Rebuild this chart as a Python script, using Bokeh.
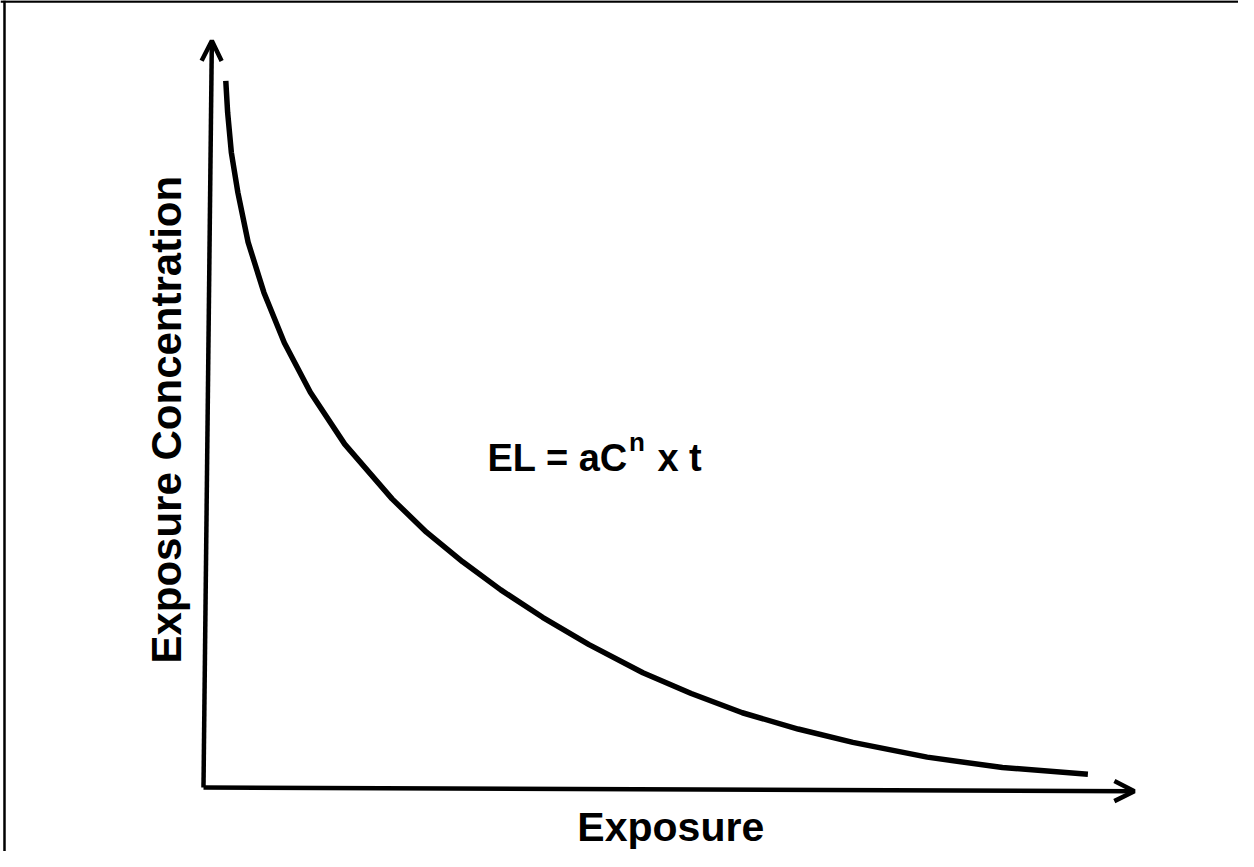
from bokeh.plotting import figure
from bokeh.models import Range1d, Label, Arrow, OpenHead, Span
from bokeh.embed import file_html
from bokeh.resources import INLINE

# Curve (arbitrary units: exposure vs concentration)
exposure = [0.24, 0.26, 0.30, 0.37, 0.48, 0.65, 0.87, 1.15, 1.52, 2.03, 2.40,
            2.79, 3.20, 3.65, 4.15, 4.73, 5.25, 5.80, 6.40, 6.99, 7.79, 8.60, 9.52]
concentration = [9.55, 9.12, 8.58, 8.04, 7.37, 6.69, 6.01, 5.34, 4.64, 3.90, 3.45,
                 3.05, 2.67, 2.30, 1.93, 1.55, 1.27, 1.01, 0.79, 0.61, 0.41, 0.27, 0.18]

x_label = "Exposure"
y_label = "Exposure Concentration"
formula_parts = ["EL = aC", "n", "x t"]

# axis arrows (the scanned page is slightly tilted)
x_axis_end = (10.02, -0.05)
y_axis_end = (0.09, 10.09)

FONT = "Liberation Sans"

p = figure(width=1238, height=851, output_backend="svg", toolbar_location=None,
           x_range=Range1d(-2.185, 11.141), y_range=Range1d(-0.865, 10.635),
           min_border=0)
p.axis.visible = False
p.xgrid.visible = False
p.ygrid.visible = False
p.outline_line_color = None
p.background_fill_color = "white"

# page frame (top and left edges visible in the scan)
p.add_layout(Span(location=10.62, dimension="width", line_color="black", line_width=2.5))
p.add_layout(Span(location=-2.142, dimension="height", line_color="black", line_width=2.5))

# axes with arrow heads
p.add_layout(Arrow(end=OpenHead(size=20, line_width=4.5, line_color="black"),
                   x_start=0, y_start=0, x_end=y_axis_end[0], y_end=y_axis_end[1],
                   line_width=4.5, line_color="black"))
p.add_layout(Arrow(end=OpenHead(size=20, line_width=4.5, line_color="black"),
                   x_start=0, y_start=0, x_end=x_axis_end[0], y_end=x_axis_end[1],
                   line_width=4.5, line_color="black"))

p.line(exposure, concentration, line_width=5.5, line_color="black",
       line_join="round", line_cap="butt")

p.add_layout(Label(x=5.03, y=-0.54, text=x_label, text_align="center",
                   text_baseline="alphabetic", text_font=FONT, text_font_style="bold",
                   text_font_size="41px", text_color="black"))
p.add_layout(Label(x=-0.40, y=4.97, text=y_label, angle=1.5707963,
                   text_align="center", text_baseline="middle", text_font=FONT,
                   text_font_style="bold", text_font_size="42px", text_color="black"))

fx, fy = 3.057, 4.446
big = 38
small = 26
w0 = 3.696 * big
w1 = 0.611 * small
space = 0.278 * big
p.add_layout(Label(x=fx, y=fy, text=formula_parts[0], text_align="left",
                   text_baseline="alphabetic", text_font=FONT, text_font_style="bold",
                   text_font_size=f"{big}px", text_color="black"))
p.add_layout(Label(x=fx, y=fy, x_offset=w0 + 1, y_offset=16, text=formula_parts[1],
                   text_align="left", text_baseline="alphabetic", text_font=FONT,
                   text_font_style="bold", text_font_size=f"{small}px", text_color="black"))
p.add_layout(Label(x=fx, y=fy, x_offset=w0 + w1 + space + 3, text=formula_parts[2],
                   text_align="left", text_baseline="alphabetic", text_font=FONT,
                   text_font_style="bold", text_font_size=f"{big}px", text_color="black"))

open("out.html", "w").write(file_html(p, INLINE))
